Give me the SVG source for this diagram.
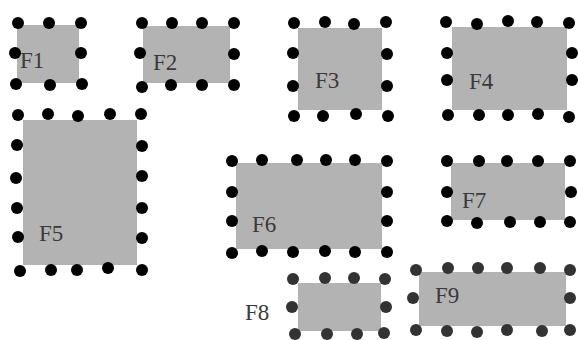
<svg xmlns="http://www.w3.org/2000/svg" width="578" height="340" viewBox="0 0 578 340">
<style>
.box{fill:#b3b3b3}
.d{fill:#000}
.g{fill:#333}
.d circle,.g circle{r:6px}
.lbl{font-family:"Liberation Serif","Times New Roman",serif;font-size:23px;fill:#3a3a3a}
</style>
<rect width="578" height="340" fill="#fff"/>
<g id="F1">
<rect class="box" x="17" y="25" width="62" height="58"/>
<g class="d"><circle cx="18" cy="23" r="6"/><circle cx="49" cy="23" r="6"/><circle cx="81" cy="23" r="6"/>
<circle cx="15" cy="53" r="6"/><circle cx="81" cy="53" r="6"/>
<circle cx="16" cy="84" r="6"/><circle cx="50" cy="85" r="6"/><circle cx="82" cy="84" r="6"/></g>
<text class="lbl" x="20" y="68">F1</text>
</g>
<g id="F2">
<rect class="box" x="143" y="26" width="87" height="57"/>
<g class="d"><circle cx="142" cy="23" r="6"/><circle cx="172" cy="23" r="6"/><circle cx="202" cy="23" r="6"/><circle cx="234" cy="23" r="6"/>
<circle cx="140" cy="53" r="6"/><circle cx="234" cy="54" r="6"/>
<circle cx="142" cy="87" r="6"/><circle cx="171" cy="85" r="6"/><circle cx="202" cy="85" r="6"/><circle cx="234" cy="85" r="6"/></g>
<text class="lbl" x="153" y="70">F2</text>
</g>
<g id="F3">
<rect class="box" x="298" y="28" width="84" height="82"/>
<g class="d"><circle cx="294" cy="23" r="6"/><circle cx="325" cy="22" r="6"/><circle cx="354" cy="24" r="6"/><circle cx="386" cy="22" r="6"/>
<circle cx="293" cy="53" r="6"/><circle cx="387" cy="54" r="6"/>
<circle cx="293" cy="86" r="6"/><circle cx="387" cy="86" r="6"/>
<circle cx="294" cy="116" r="6"/><circle cx="323" cy="116" r="6"/><circle cx="356" cy="114" r="6"/><circle cx="388" cy="116" r="6"/></g>
<text class="lbl" x="315" y="88">F3</text>
</g>
<g id="F4">
<rect class="box" x="452" y="27" width="115" height="83"/>
<g class="d"><circle cx="446" cy="22" r="6"/><circle cx="477" cy="24" r="6"/><circle cx="508" cy="21" r="6"/><circle cx="537" cy="22" r="6"/><circle cx="569" cy="23" r="6"/>
<circle cx="447" cy="53" r="6"/><circle cx="572" cy="53" r="6"/>
<circle cx="447" cy="80" r="6"/><circle cx="572" cy="80" r="6"/>
<circle cx="448" cy="115" r="6"/><circle cx="479" cy="115" r="6"/><circle cx="508" cy="115" r="6"/><circle cx="538" cy="114" r="6"/><circle cx="569" cy="117" r="6"/></g>
<text class="lbl" x="469" y="89">F4</text>
</g>
<g id="F5">
<rect class="box" x="23" y="120" width="114" height="145"/>
<g class="d"><circle cx="18" cy="115" r="6"/><circle cx="48" cy="114" r="6"/><circle cx="78" cy="116" r="6"/><circle cx="110" cy="114" r="6"/><circle cx="141" cy="114" r="6"/>
<circle cx="17" cy="145" r="6"/><circle cx="142" cy="146" r="6"/>
<circle cx="16" cy="178" r="6"/><circle cx="142" cy="176" r="6"/>
<circle cx="17" cy="208" r="6"/><circle cx="142" cy="208" r="6"/>
<circle cx="18" cy="237" r="6"/><circle cx="142" cy="238" r="6"/>
<circle cx="20" cy="271" r="6"/><circle cx="51" cy="270" r="6"/><circle cx="77" cy="270" r="6"/><circle cx="108" cy="268" r="6"/><circle cx="142" cy="270" r="6"/></g>
<text class="lbl" x="39" y="241">F5</text>
</g>
<g id="F6">
<rect class="box" x="236" y="163" width="146" height="86"/>
<g class="d"><circle cx="232" cy="161" r="6"/><circle cx="262" cy="160" r="6"/><circle cx="297" cy="160" r="6"/><circle cx="326" cy="160" r="6"/><circle cx="355" cy="160" r="6"/><circle cx="387" cy="161" r="6"/>
<circle cx="232" cy="192" r="6"/><circle cx="387" cy="192" r="6"/>
<circle cx="232" cy="221" r="6"/><circle cx="387" cy="221" r="6"/>
<circle cx="232" cy="253" r="6"/><circle cx="262" cy="251" r="6"/><circle cx="293" cy="252" r="6"/><circle cx="325" cy="251" r="6"/><circle cx="355" cy="252" r="6"/><circle cx="387" cy="252" r="6"/></g>
<text class="lbl" x="252" y="232">F6</text>
</g>
<g id="F7">
<rect class="box" x="451" y="163" width="114" height="57"/>
<g class="d"><circle cx="447" cy="161" r="6"/><circle cx="479" cy="161" r="6"/><circle cx="507" cy="161" r="6"/><circle cx="538" cy="161" r="6"/><circle cx="570" cy="161" r="6"/>
<circle cx="447" cy="192" r="6"/><circle cx="571" cy="192" r="6"/>
<circle cx="447" cy="221" r="6"/><circle cx="477" cy="223" r="6"/><circle cx="510" cy="222" r="6"/><circle cx="540" cy="222" r="6"/><circle cx="570" cy="222" r="6"/></g>
<text class="lbl" x="462" y="208">F7</text>
</g>
<g id="F8">
<rect class="box" x="298" y="283" width="83" height="48"/>
<g class="g"><circle cx="293" cy="279" r="6"/><circle cx="325" cy="278" r="6"/><circle cx="354" cy="278" r="6"/><circle cx="385" cy="279" r="6"/>
<circle cx="292" cy="307" r="6"/><circle cx="386" cy="307" r="6"/>
<circle cx="295" cy="334" r="6"/><circle cx="327" cy="334" r="6"/><circle cx="357" cy="334" r="6"/><circle cx="384" cy="333" r="6"/></g>
<text class="lbl" x="245" y="320">F8</text>
</g>
<g id="F9">
<rect class="box" x="419" y="272" width="147" height="54"/>
<g class="g"><circle cx="416" cy="270" r="6"/><circle cx="448" cy="268" r="6"/><circle cx="478" cy="268" r="6"/><circle cx="507" cy="268" r="6"/><circle cx="540" cy="268" r="6"/><circle cx="570" cy="270" r="6"/>
<circle cx="413" cy="298" r="6"/><circle cx="570" cy="298" r="6"/>
<circle cx="416" cy="330" r="6"/><circle cx="447" cy="331" r="6"/><circle cx="477" cy="332" r="6"/><circle cx="507" cy="330" r="6"/><circle cx="542" cy="331" r="6"/><circle cx="570" cy="330" r="6"/></g>
<text class="lbl" x="435" y="303">F9</text>
</g>
</svg>
